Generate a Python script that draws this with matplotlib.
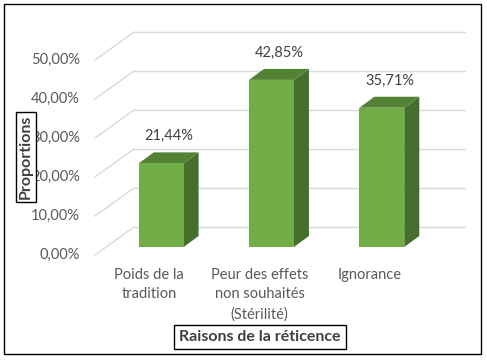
import matplotlib.pyplot as plt
from matplotlib.patches import Polygon, Rectangle
from matplotlib.transforms import ScaledTranslation

categories = ["Poids de la\ntradition", "Peur des effets\nnon souhaités\n(Stérilité)", "Ignorance"]
values = [21.44, 42.85, 35.71]
value_labels = ["21,44%", "42,85%", "35,71%"]
yticks = [0, 10, 20, 30, 40, 50]
ytick_labels = ["0,00%", "10,00%", "20,00%", "30,00%", "40,00%", "50,00%"]

plt.rcParams['font.family'] = ['Lato', 'DejaVu Sans']

DPI = 100
fig = plt.figure(figsize=(4.87, 3.6), dpi=DPI)
# axes = plane of the bar fronts
ax = fig.add_axes([106 / 487, 113 / 360, 331 / 487, 195 / 360])
ax.set_xlim(-0.5, 2.5)
ax.set_ylim(0, 50)
ax.axis('off')


def shift(dx, dy):
    # offset in pixels (dy positive = up)
    return ax.transData + ScaledTranslation(dx / DPI, dy / DPI, fig.dpi_scale_trans)


back = shift(28, 20)
front = shift(-11, -8)
grid_col = "#d9d9d9"

# back wall gridlines and left wall diagonals
for t in yticks:
    ax.plot([-0.5, 2.5], [t, t], color=grid_col, lw=1, transform=back, zorder=1, clip_on=False)
    x0, y0 = back.transform((-0.5, t))
    x1, y1 = front.transform((-0.5, t))
    fig.add_artist(plt.Line2D([x0 / fig.bbox.width, x1 / fig.bbox.width],
                              [y0 / fig.bbox.height, y1 / fig.bbox.height],
                              color=grid_col, lw=1, zorder=1))

# tick labels
for t, lab in zip(yticks, ytick_labels):
    ax.text(-0.5, t, lab, transform=shift(-26, -8), ha='right', va='center',
            fontsize=10.5, color="#595959")

# bars with 3D look
w = 0.407
ddx, ddy = 15, 11
px_per_x = 331 / 3
px_per_y = 195 / 50
dxu = ddx / px_per_x
dyu = ddy / px_per_y
for i, v in enumerate(values):
    l, r = i - w / 2, i + w / 2
    ax.add_patch(Polygon([(r, 0), (r + dxu, dyu), (r + dxu, v + dyu), (r, v)],
                         closed=True, facecolor="#456f2c", edgecolor="none", zorder=3))
    ax.add_patch(Polygon([(l, v), (l + dxu, v + dyu), (r + dxu, v + dyu), (r, v)],
                         closed=True, facecolor="#548235", edgecolor="none", zorder=3))
    ax.add_patch(Rectangle((l, 0), w, v, facecolor="#70ad47", edgecolor="none", zorder=4))
    ax.text(i, v, value_labels[i], transform=shift(8, 27), ha='center', va='center',
            fontsize=10.5, color="#404040")

# category labels
for i, c in enumerate(categories):
    ax.text(i, 0, c, transform=shift(-12, -21), ha='center', va='top',
            fontsize=10.5, color="#595959", linespacing=1.5)

fig.text(26 / 487, 1 - 157 / 360, "Proportions", rotation=90, ha='center', va='center',
         fontsize=11.5, fontweight='bold', color="#404040",
         bbox=dict(boxstyle='square,pad=0.2', facecolor='white', edgecolor='black', lw=1))
fig.text(260 / 487, 1 - 337 / 360, "Raisons de la réticence", ha='center', va='center',
         fontsize=11.5, fontweight='bold', color="#404040",
         bbox=dict(boxstyle='square,pad=0.3', facecolor='white', edgecolor='black', lw=1))

fig.add_artist(Rectangle((4 / 487, 6 / 360), 477 / 487, 350 / 360, transform=fig.transFigure,
                         fill=False, edgecolor='black', lw=1))

fig.savefig("out.png", dpi=DPI)
